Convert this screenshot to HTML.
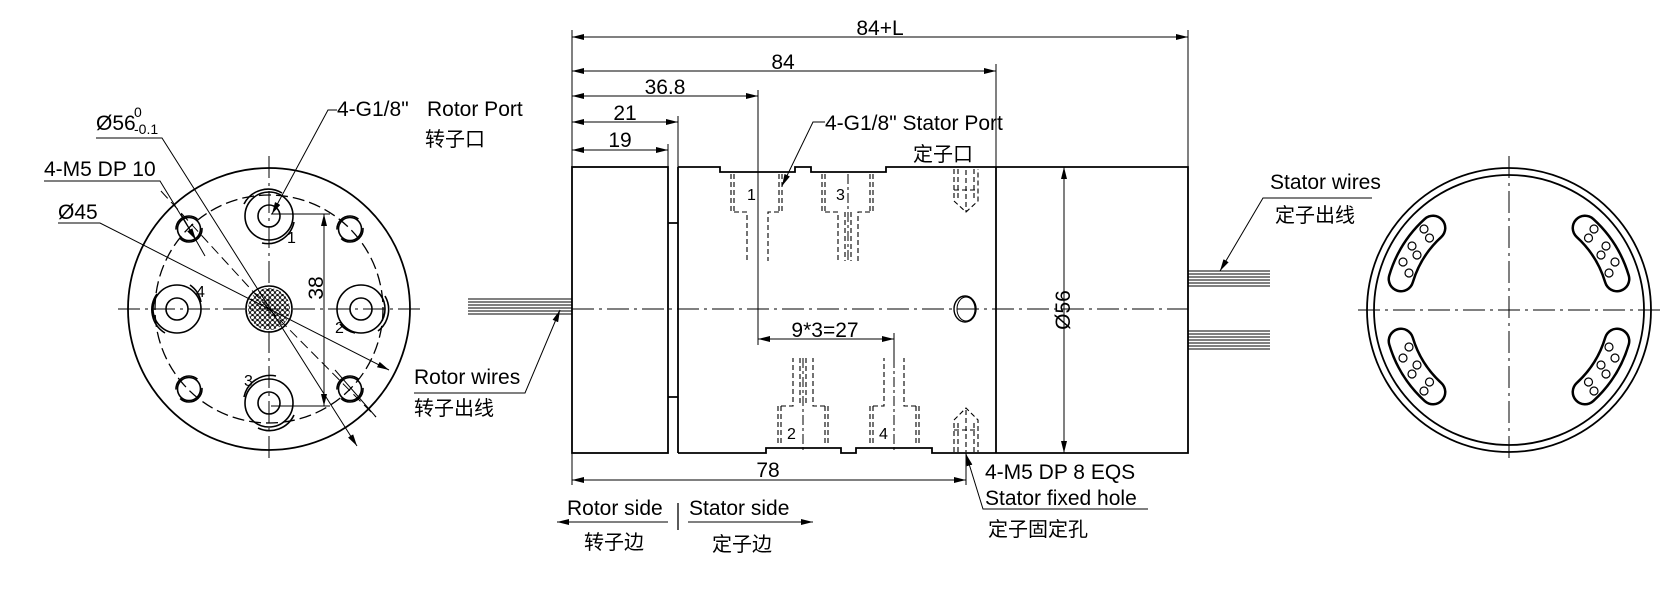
<!DOCTYPE html>
<html><head><meta charset="utf-8"><style>
html,body{margin:0;padding:0;background:#fff;}
svg{display:block;}
text{font-family:"Liberation Sans","Noto Sans CJK SC",sans-serif;fill:#000;}
.c{font-family:"Liberation Sans","Noto Sans CJK SC",sans-serif;font-size:20px;}
</style></head><body>
<svg width="1679" height="598" viewBox="0 0 1679 598" xmlns="http://www.w3.org/2000/svg">
<defs>
<marker id="a" viewBox="0 0 12 6" refX="12" refY="3" markerWidth="12" markerHeight="6" orient="auto-start-reverse" markerUnits="userSpaceOnUse"><path d="M0,0 L12,3 L0,6 z" fill="#000"/></marker>
<pattern id="p" width="5" height="5" patternUnits="userSpaceOnUse"><circle cx="2.5" cy="2.5" r="2" fill="none" stroke="#000" stroke-width="0.9"/></pattern>
</defs>
<g fill="none" stroke="#000" stroke-width="1.3">
<!-- LEFT VIEW -->
<circle cx="269" cy="309" r="141" stroke-width="1.8"/>
<circle cx="269" cy="309" r="114" stroke-dasharray="12,5"/>
<line x1="118" y1="309" x2="421" y2="309" stroke-dasharray="22,5,3,5" stroke-width="1"/>
<line x1="269" y1="156" x2="269" y2="461" stroke-dasharray="22,5,3,5" stroke-width="1"/>
<circle cx="269" cy="309" r="23" stroke-width="1.6"/>
<circle cx="269" cy="309" r="21" fill="url(#p)" stroke="none"/>
<g stroke-width="1.6">
<circle cx="269" cy="216" r="24"/><circle cx="269" cy="216" r="11"/><path d="M244,204 A27,27 0 0 1 282,193 M294,222 A27,27 0 0 1 262,243"/>
<circle cx="269" cy="403" r="24"/><circle cx="269" cy="403" r="11"/><path d="M244,397 A27,27 0 0 1 276,376 M294,415 A27,27 0 0 1 258,428"/>
<circle cx="177" cy="309" r="24"/><circle cx="177" cy="309" r="11"/><path d="M157,294 A27,27 0 0 0 165,333 M190,285 A27,27 0 0 1 201,302"/>
<circle cx="361" cy="309" r="24"/><circle cx="361" cy="309" r="11"/><path d="M385,296 A27,27 0 0 1 378,331 M355,333 A27,27 0 0 1 340,324"/>
<circle cx="189" cy="229" r="11.5"/><circle cx="189" cy="229" r="13" stroke-dasharray="30,10"/>
<circle cx="350" cy="229" r="11.5"/><circle cx="350" cy="229" r="13" stroke-dasharray="30,10"/>
<circle cx="189" cy="389" r="11.5"/><circle cx="189" cy="389" r="13" stroke-dasharray="30,10"/>
<circle cx="350" cy="389" r="11.5"/><circle cx="350" cy="389" r="13" stroke-dasharray="30,10"/>
</g>
<line x1="269" y1="309" x2="160" y2="190" stroke-dasharray="10,5" stroke-width="1"/>
<line x1="269" y1="309" x2="376" y2="417" stroke-dasharray="10,5" stroke-width="1"/>
<line x1="181" y1="214" x2="205" y2="256" stroke-width="1"/>
<line x1="335" y1="370" x2="376" y2="417" stroke-width="1"/>
<line x1="271" y1="214" x2="330" y2="214" stroke-width="1"/>
<line x1="271" y1="406" x2="330" y2="406" stroke-width="1"/>
<line x1="324" y1="214" x2="324" y2="406" stroke-width="1" marker-start="url(#a)" marker-end="url(#a)"/>
<polyline points="96,138 162,138 357,446" stroke-width="1" marker-end="url(#a)"/>
<polyline points="44,181 160,181 196,240" stroke-width="1" marker-end="url(#a)"/>
<polyline points="58,223 100,223 389,370" stroke-width="1" marker-end="url(#a)"/>
<polyline points="337,110 328,110 272,214" stroke-width="1" marker-end="url(#a)"/>
<polyline points="414,393 525,393 560,310" stroke-width="1" marker-end="url(#a)"/>
<g stroke-width="1"><line x1="468" y1="299" x2="572" y2="299"/><line x1="468" y1="302" x2="572" y2="302"/><line x1="468" y1="305" x2="572" y2="305"/><line x1="468" y1="308" x2="572" y2="308"/><line x1="468" y1="311" x2="572" y2="311"/><line x1="468" y1="314" x2="572" y2="314"/></g>

<!-- MIDDLE VIEW -->
<g stroke-width="1.8">
<rect x="572" y="167" width="96" height="286"/>
<path d="M668,223 H678 M668,397 H678"/>
<path d="M678,167 V453 M678,167 H720 V172 H795 V167 H811 V172 H886 V167 H1188 V453 H932 V448 H856 V453 H841 V448 H766 V453 H678"/>
<line x1="996" y1="167" x2="996" y2="453"/>
</g>
<line x1="572" y1="309" x2="1188" y2="309" stroke-dasharray="22,5,3,5" stroke-width="1"/>
<g stroke-dasharray="5,3" stroke-width="1.1">
<path d="M731,174 V212 M734,174 V212 M779,174 V212 M782,174 V212 M734,212 H747 V261 M779,212 H768 V261"/>
<path d="M822,174 V212 M825,174 V212 M870,174 V212 M873,174 V212 M825,212 H838 V261 M870,212 H858 V261 M845,212 V261 M851,212 V261"/>
<path d="M778,406 V446 M781,406 V446 M825,406 V446 M828,406 V446 M781,406 H793 V358 M825,406 H813 V358 M800,358 V406 M806,358 V406"/>
<path d="M870,406 V446 M873,406 V446 M916,406 V446 M919,406 V446 M873,406 H884 V358 M916,406 H904 V358"/>
<path d="M954,169 V201 L966,212 L978,201 V169 M958,169 V201 M974,169 V201 M954,190 H978 M966,170 V212"/>
<path d="M954,452 V420 L966,408 L978,420 V452 M958,452 V420 M974,452 V420 M954,430 H978 M966,410 V452"/>
</g>
<line x1="758" y1="212" x2="758" y2="261" stroke-dasharray="10,3,3,3" stroke-width="1"/>
<line x1="848" y1="174" x2="848" y2="261" stroke-dasharray="10,3,3,3" stroke-width="1"/>
<line x1="803" y1="358" x2="803" y2="450" stroke-dasharray="10,3,3,3" stroke-width="1"/>
<line x1="894" y1="358" x2="894" y2="450" stroke-dasharray="10,3,3,3" stroke-width="1"/>
<ellipse cx="965" cy="309" rx="11" ry="13" stroke-width="1.4"/>
<ellipse cx="966" cy="309" rx="9" ry="12" stroke-width="1"/>
<g stroke-width="1">
<line x1="572" y1="30" x2="572" y2="167"/><line x1="572" y1="453" x2="572" y2="485"/>
<line x1="1188" y1="30" x2="1188" y2="167"/>
<line x1="996" y1="64" x2="996" y2="167"/>
<line x1="758" y1="90" x2="758" y2="345"/>
<line x1="678" y1="116" x2="678" y2="167"/>
<line x1="668" y1="144" x2="668" y2="167"/>
<line x1="894" y1="333" x2="894" y2="358"/>
<line x1="966" y1="453" x2="966" y2="485"/>
<line x1="572" y1="37" x2="1188" y2="37" marker-start="url(#a)" marker-end="url(#a)"/>
<line x1="572" y1="71" x2="996" y2="71" marker-start="url(#a)" marker-end="url(#a)"/>
<line x1="572" y1="96" x2="758" y2="96" marker-start="url(#a)" marker-end="url(#a)"/>
<line x1="572" y1="122" x2="678" y2="122" marker-start="url(#a)" marker-end="url(#a)"/>
<line x1="572" y1="150" x2="668" y2="150" marker-start="url(#a)" marker-end="url(#a)"/>
<line x1="572" y1="480" x2="966" y2="480" marker-start="url(#a)" marker-end="url(#a)"/>
<line x1="758" y1="339" x2="894" y2="339" marker-start="url(#a)" marker-end="url(#a)"/>
<line x1="1064" y1="167" x2="1064" y2="453" marker-start="url(#a)" marker-end="url(#a)"/>
<line x1="557" y1="522" x2="668" y2="522" marker-start="url(#a)"/>
<line x1="688" y1="522" x2="813" y2="522" marker-end="url(#a)"/>
<line x1="678" y1="503" x2="678" y2="530" stroke-width="1.3"/>
<polyline points="825,122 813,122 782,186" marker-end="url(#a)"/>
<polyline points="1148,509 983,509 966,454" marker-end="url(#a)"/>
<polyline points="1372,198 1263,198 1220,271" marker-end="url(#a)"/>
</g>
<g stroke-width="1"><line x1="1188" y1="271" x2="1270" y2="271"/><line x1="1188" y1="274" x2="1270" y2="274"/><line x1="1188" y1="277" x2="1270" y2="277"/><line x1="1188" y1="280" x2="1270" y2="280"/><line x1="1188" y1="283" x2="1270" y2="283"/><line x1="1188" y1="286" x2="1270" y2="286"/>
<line x1="1188" y1="331" x2="1270" y2="331"/><line x1="1188" y1="334" x2="1270" y2="334"/><line x1="1188" y1="337" x2="1270" y2="337"/><line x1="1188" y1="340" x2="1270" y2="340"/><line x1="1188" y1="343" x2="1270" y2="343"/><line x1="1188" y1="346" x2="1270" y2="346"/><line x1="1188" y1="349" x2="1270" y2="349"/></g>

<!-- RIGHT VIEW -->
<circle cx="1509" cy="310" r="142" stroke-width="1.8"/>
<circle cx="1509" cy="310" r="135" stroke-width="1.8"/>
<line x1="1358" y1="310" x2="1660" y2="310" stroke-dasharray="22,5,3,5" stroke-width="1"/>
<line x1="1509" y1="156" x2="1509" y2="462" stroke-dasharray="22,5,3,5" stroke-width="1"/>
<g id="s">
<path d="M1433,228 A112,112 0 0 0 1401,279" stroke="#000" stroke-width="27" stroke-linecap="round"/>
<path d="M1433,228 A112,112 0 0 0 1401,279" stroke="#fff" stroke-width="22" stroke-linecap="round"/>
<g stroke-width="1.2"><circle cx="1429.5" cy="238" r="4"/><circle cx="1417" cy="255" r="4"/><circle cx="1409" cy="273" r="4"/><circle cx="1424" cy="229" r="4"/><circle cx="1412" cy="246" r="4"/><circle cx="1403" cy="262" r="4"/></g>
</g>
<use href="#s" transform="translate(3018,0) scale(-1,1)"/>
<use href="#s" transform="translate(0,620) scale(1,-1)"/>
<use href="#s" transform="translate(3018,620) scale(-1,-1)"/>
</g>

<!-- TEXT -->
<g font-size="21">
<text x="96" y="130">Ø56</text>
<text x="134" y="117" font-size="14">0</text>
<text x="134" y="134" font-size="14">-0.1</text>
<text x="44" y="176">4-M5 DP 10</text>
<text x="58" y="219">Ø45</text>
<text x="337" y="116">4-G1/8"</text>
<text x="427" y="116">Rotor Port</text>
<text x="414" y="384">Rotor wires</text>
<text x="880" y="35" text-anchor="middle">84+L</text>
<text x="783" y="69" text-anchor="middle">84</text>
<text x="665" y="94" text-anchor="middle">36.8</text>
<text x="625" y="120" text-anchor="middle">21</text>
<text x="620" y="147" text-anchor="middle">19</text>
<text x="768" y="477" text-anchor="middle">78</text>
<text x="825" y="337" text-anchor="middle">9*3=27</text>
<text x="825" y="130">4-G1/8" Stator Port</text>
<text x="567" y="515">Rotor side</text>
<text x="689" y="515">Stator side</text>
<text x="985" y="479">4-M5 DP 8 EQS</text>
<text x="985" y="505">Stator fixed hole</text>
<text x="1270" y="189">Stator wires</text>
<text transform="translate(1070,310) rotate(-90)" text-anchor="middle">Ø56</text>
<text transform="translate(323,288) rotate(-90)" text-anchor="middle">38</text>
</g>
<g font-size="16">
<text x="287" y="243">1</text><text x="335" y="333">2</text><text x="244" y="386">3</text><text x="196" y="297">4</text>
<text x="747" y="200">1</text><text x="836" y="200">3</text><text x="787" y="439">2</text><text x="879" y="439">4</text>
</g>
<g>
<text class="c" x="425" y="146">转子口</text>
<text class="c" x="414" y="415">转子出线</text>
<text class="c" x="913" y="161">定子口</text>
<text class="c" x="584" y="549">转子边</text>
<text class="c" x="712" y="551">定子边</text>
<text class="c" x="988" y="536">定子固定孔</text>
<text class="c" x="1275" y="222">定子出线</text>
</g>
</svg>
</body></html>
